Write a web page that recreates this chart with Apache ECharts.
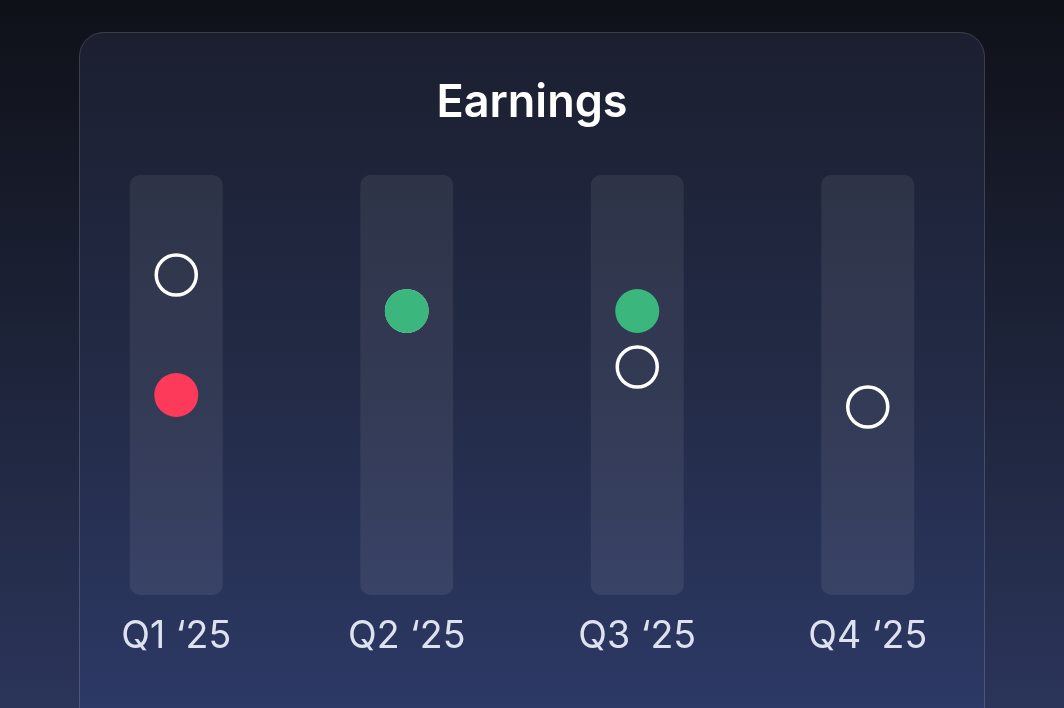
<!DOCTYPE html>
<html>
<head>
<meta charset="utf-8">
<script src="https://cdn.jsdelivr.net/npm/echarts@6/dist/echarts.min.js"></script>
<style>
  html, body { margin: 0; padding: 0; background: #0f1118; }
  #chart { width: 1064px; height: 708px; }
</style>
</head>
<body>
<div id="chart"></div>
<script>
// ---- data ----
const quarters = ['Q1 \u201825', 'Q2 \u201825', 'Q3 \u201825', 'Q4 \u201825'];
const estimateEPS = [1.60, 1.42, 1.14, 0.94];
const actualEPS = [1.00, 1.42, 1.42, null];
const axisMin = 0;
const axisMax = 2.10;
const trackValues = [axisMax, axisMax, axisMax, axisMax];

const BEAT = '#3bb77e';
const MISS = '#fe3a5b';

const actualData = actualEPS.map((v, i) => v == null ? null : ({
  value: v,
  itemStyle: { color: v >= estimateEPS[i] ? BEAT : MISS, opacity: 1 }
}));

const chart = echarts.init(document.getElementById('chart'), null, { renderer: 'canvas' });
chart.setOption({
  backgroundColor: {
    type: 'linear', x: 0, y: 0, x2: 0, y2: 1,
    colorStops: [
      { offset: 0, color: '#0f1118' },
      { offset: 1, color: '#2b355a' }
    ]
  },
  animation: false,
  textStyle: { fontFamily: 'Inter, "Noto Sans", sans-serif' },
  graphic: [{
    type: 'rect',
    z: 0,
    silent: true,
    shape: { x: 79.5, y: 32.5, width: 905, height: 720, r: 24 },
    style: {
      fill: {
        type: 'linear', x: 0, y: 0, x2: 0, y2: 1,
        colorStops: [
          { offset: 0, color: '#1b1f30' },
          { offset: 0.5, color: '#232b47' },
          { offset: 1, color: '#2e3b6a' }
        ]
      },
      stroke: 'rgba(255,255,255,0.16)',
      lineWidth: 1
    }
  }],
  title: {
    text: 'Earnings',
    left: 'center',
    top: 76,
    textStyle: {
      color: '#ffffff',
      fontSize: 45,
      fontWeight: 600,
      fontFamily: 'Inter, "Noto Sans", sans-serif'
    }
  },
  grid: { left: 61, right: 81, top: 175, bottom: 113 },
  xAxis: {
    type: 'category',
    data: quarters,
    axisLine: { show: false },
    axisTick: { show: false },
    axisLabel: {
      color: '#dde2ee',
      fontSize: 37.5,
      margin: 23,
      fontFamily: 'Inter, "Noto Sans", sans-serif'
    }
  },
  yAxis: {
    type: 'value',
    min: axisMin,
    max: axisMax,
    show: false,
    splitLine: { show: false }
  },
  series: [
    {
      name: 'Track',
      type: 'bar',
      data: trackValues,
      barWidth: 93,
      silent: true,
      z: 1,
      itemStyle: { color: 'rgba(255,255,255,0.075)', borderRadius: 10 }
    },
    {
      name: 'Estimate',
      type: 'scatter',
      data: estimateEPS,
      symbol: 'circle',
      symbolSize: 40,
      z: 3,
      itemStyle: { color: 'rgba(0,0,0,0)', borderColor: '#ffffff', borderWidth: 3.5, opacity: 1 }
    },
    {
      name: 'Actual',
      type: 'scatter',
      data: actualData,
      symbol: 'circle',
      symbolSize: 44,
      z: 4,
      itemStyle: { opacity: 1 }
    }
  ]
});
</script>
</body>
</html>
